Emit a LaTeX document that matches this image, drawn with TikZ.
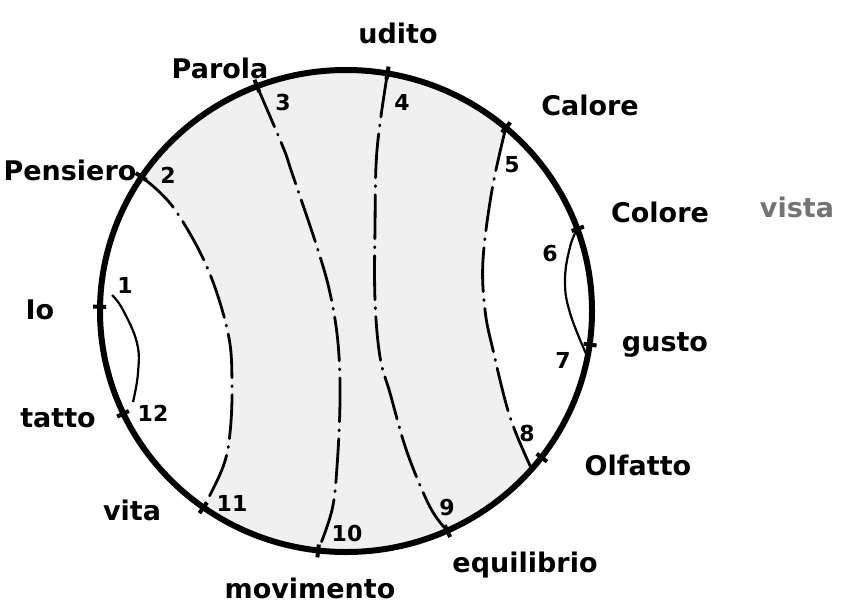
\documentclass[tikz,border=0pt]{standalone}
\usepackage{fontspec}
\setmainfont{DejaVu Sans}
\usetikzlibrary{calc}
\begin{document}
\begin{tikzpicture}[x=1pt,y=1pt,yscale=-1,
  rim/.style={line width=6pt},
  tickmark/.style={line width=4pt},
  chord/.style={line width=2.8pt, line cap=round, dash pattern=on 44pt off 8pt on 1pt off 8pt},
  innerarc/.style={line width=2.2pt},
  lab/.style={font=\bfseries\fontsize{27}{30}\selectfont, inner sep=0pt},
  num/.style={font=\bfseries\fontsize{22}{24}\selectfont, inner sep=0pt},
  shade/.style={fill=black!6}]
\useasboundingbox (0,0) rectangle (843,608);
\coordinate (c) at (346,311);
\foreach \n/\a in {io/179, tatto/205.2, vita/234.6, movimento/263.5, equilibrio/294.3, olfatto/322.6, gusto/352, colore/19.9, calore/49.5, udito/80.3, parola/111.2, pensiero/146.2, pE/319, pS/349} {
  \coordinate (\n) at ($(c)+(-\a:246 and 241)$);
}
\coordinate (aIs) at (112,295);
\coordinate (aIe) at (133,402);
% shading
\fill[shade] plot[smooth,tension=0.6] coordinates {(pensiero) (173,207) (207,267) (228,333) (232,383) (230,433) (223,467) (vita)}
  arc[start angle=125.4, end angle=41, x radius=246pt, y radius=241pt]
  -- plot[smooth,tension=0.6] coordinates {(pE) (510,417) (493,350) (485,310) (483,260) (492,190) (calore)}
  arc[start angle=-49.5, end angle=-146.2, x radius=246pt, y radius=241pt] -- cycle;
% chords
\draw[chord] plot[smooth,tension=0.6] coordinates {(pensiero) (173,207) (207,267) (228,333) (232,383) (230,433) (223,467) (vita)};
\draw[chord] plot[smooth,tension=0.6] coordinates {(parola) (283,147) (292,173) (317,247) (330,293) (338,343) (340,400) (337,467) (332,510) (movimento)};
\draw[chord] plot[smooth,tension=0.6] coordinates {(udito) (377,150) (375,227) (375,300) (380,357) (390,393) (407,452) (430,507) (equilibrio)};
\draw[chord] plot[smooth,tension=0.6] coordinates {(calore) (492,190) (483,260) (485,310) (493,350) (510,417) (pE)};
% inner arcs
\draw[innerarc] plot[smooth,tension=0.7] coordinates {(aIs) (123,310) (137,343) (138,373) (aIe)};
\draw[innerarc] plot[smooth,tension=0.7] coordinates {(colore) (570,247) (565,280) (570,313) (pS)};
% rim
\draw[rim] (c) ellipse[x radius=246pt, y radius=241pt];
\foreach \a in {179, 205.2, 234.6, 263.5, 294.3, 322.6, 352, 19.9, 49.5, 80.3, 111.2, 146.2} {
  \draw[tickmark] ($(c)+(-\a:240 and 235)$) -- ($(c)+(-\a:253 and 248)$);
}
% numbers
\node[num] (n1) at (125,285) {1};
\node[num] (n2) at (168,175) {2};
\node[num] (n3) at (283,102) {3};
\node[num] (n4) at (402,102) {4};
\node[num] (n5) at (512,165) {5};
\node[num] (n6) at (550,253) {6};
\node[num] (n7) at (563,360) {7};
\node[num] (n8) at (527,433) {8};
\node[num] (n9) at (447,507) {9};
\node[num] (n10) at (347,533) {10};
\node[num] (n11) at (232,503) {11};
\node[num] (n12) at (153,413) {12};
% labels
\node[lab] (lUdito) at (398,33) {udito};
\node[lab] (lParola) at (220,68) {Parola};
\node[lab] (lPensiero) at (70,170) {Pensiero};
\node[lab] (lCalore) at (590,105) {Calore};
\node[lab] (lColore) at (660,212) {Colore};
\node[lab, text=black!55] (lVista) at (797,207) {vista};
\node[lab] (lIo) at (40,310) {Io};
\node[lab] (lGusto) at (665,345) {gusto};
\node[lab] (lTatto) at (58,418) {tatto};
\node[lab] (lOlfatto) at (638,465) {Olfatto};
\node[lab] (lVita) at (132,510) {vita};
\node[lab] (lEquilibrio) at (525,565) {equilibrio};
\node[lab] (lMovimento) at (310,588) {movimento};
\end{tikzpicture}
\end{document}
